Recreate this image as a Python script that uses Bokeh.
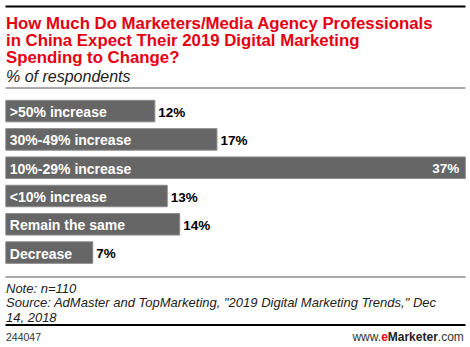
from bokeh.plotting import figure
from bokeh.models import ColumnDataSource, Range1d, Label
from bokeh.core.properties import value
from bokeh.embed import file_html
from bokeh.resources import INLINE

# ---- data ----
categories = [">50% increase", "30%-49% increase", "10%-29% increase",
              "<10% increase", "Remain the same", "Decrease"]
values = [12, 17, 37, 13, 14, 7]
value_labels = [f"{v}%" for v in values]

title_lines = ["How Much Do Marketers/Media Agency Professionals",
               "in China Expect Their 2019 Digital Marketing",
               "Spending to Change?"]
subtitle = "% of respondents"
note_lines = ["Note: n=110",
              'Source: AdMaster and TopMarketing, "2019 Digital Marketing Trends," Dec',
              "14, 2018"]
chart_id = "244047"

# ---- geometry (pixel -> data helpers) ----
W, H = 470, 347
X0, XS = 5.3, 12.42      # px of 0%, px per percentage point
Y0, PITCH = 110.6, 28.3  # px of first bar centre, px per category
LB = -2.5                # baseline correction for labels


def dx(px):
    return (px - X0) / XS


def dy(py):
    return (py - Y0) / PITCH


FONT = "Liberation Sans"
RED = "#e60012"

p = figure(width=W, height=H, output_backend="svg", toolbar_location=None,
           x_range=Range1d(dx(0), dx(W)), y_range=Range1d(dy(H), dy(0)),
           x_axis_type=None, y_axis_type=None, min_border=0)
p.outline_line_color = None
p.background_fill_color = "white"
p.border_fill_color = "white"

idx = list(range(len(categories)))
maxv = max(values)
src = ColumnDataSource(dict(y=idx, v=values, cat=categories, lab=value_labels))

p.hbar(y="y", left=0, right="v", height=21.5 / PITCH, source=src,
       fill_color="#666666", line_color="#8a8a8a", line_width=1)

p.text(x=0, y="y", text="cat", source=src, x_offset=4, y_offset=1,
       text_baseline="middle", text_align="left", text_color="white",
       text_font=value(FONT), text_font_style="bold", text_font_size="14px")

out_src = ColumnDataSource(dict(
    y=[i for i, v in zip(idx, values) if v != maxv],
    v=[v for v in values if v != maxv],
    lab=[l for l, v in zip(value_labels, values) if v != maxv]))
in_src = ColumnDataSource(dict(
    y=[i for i, v in zip(idx, values) if v == maxv],
    v=[v for v in values if v == maxv],
    lab=[l for l, v in zip(value_labels, values) if v == maxv]))

p.text(x="v", y="y", text="lab", source=out_src, x_offset=3.5, y_offset=1,
       text_baseline="middle", text_align="left", text_color="black",
       text_font=value(FONT), text_font_style="bold", text_font_size="13.5px")
p.text(x="v", y="y", text="lab", source=in_src, x_offset=-6, y_offset=1,
       text_baseline="middle", text_align="right", text_color="white",
       text_font=value(FONT), text_font_style="bold", text_font_size="13.5px")

# ---- rules ----
def rule(py, width, color):
    p.segment(x0=dx(5), y0=dy(py), x1=dx(465), y1=dy(py),
              line_color=color, line_width=width, line_cap="butt")


rule(6, 2, "black")
rule(87.5, 1, "#555555")
rule(276.5, 1, "#555555")
rule(324.5, 2, "black")


def label(px, py, text, size, color="black", style="normal", align="left"):
    p.add_layout(Label(x=dx(px), y=dy(py + LB), text=text, text_font=FONT,
                       text_font_size=size, text_color=color,
                       text_font_style=style, text_align=align,
                       text_baseline="alphabetic"))


for i, t in enumerate(title_lines):
    label(5.5, 25.5 + 17.2 * i, t, "16.8px", RED, "bold")
label(5.5, 78.5, subtitle, "16px", "#222222", "italic")
for i, t in enumerate(note_lines):
    label(5.5, 290.5 + 14.3 * i, t, "13px", "#222222", "italic")
label(5.5, 338.5, chart_id, "10.5px", "#333333")

# www.eMarketer.com, right aligned
label(463.3, 338.5, ".com", "12px", "#333333", "normal", "right")
label(437.3, 338.5, "Marketer", "12px", "#222222", "bold", "right")
label(387.3, 338.5, "e", "12px", RED, "bold", "right")
label(380.6, 338.5, "www.", "12px", "#333333", "normal", "right")

open("out.html", "w").write(file_html(p, INLINE))
